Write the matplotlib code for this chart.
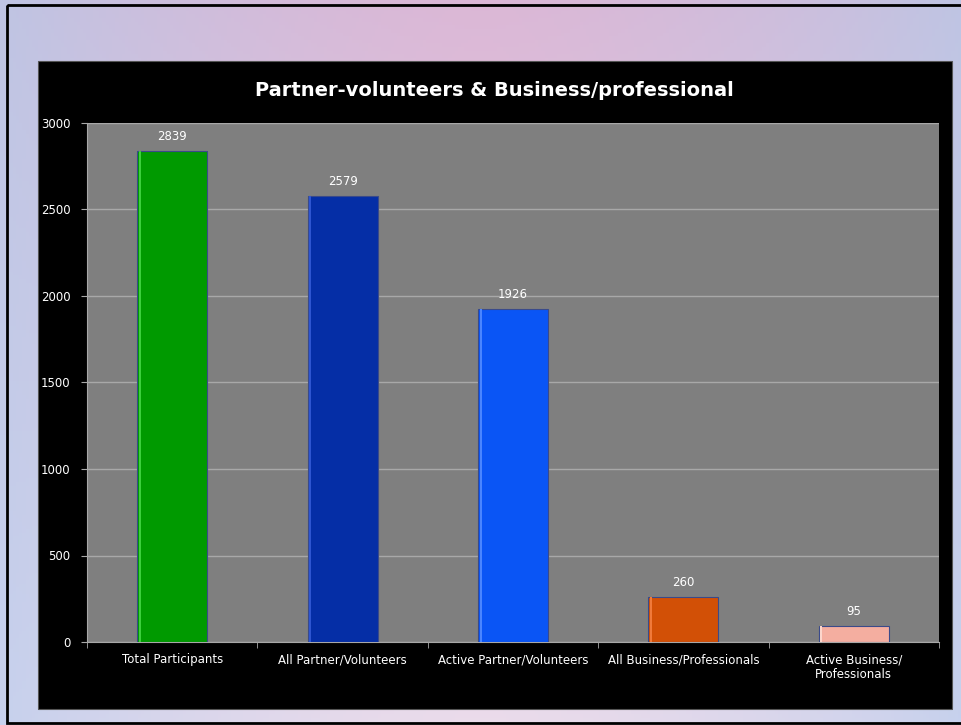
import matplotlib.pyplot as plt
from matplotlib.patches import Rectangle
import numpy as np

categories = ["Total Participants", "All Partner/Volunteers", "Active Partner/Volunteers",
              "All Business/Professionals", "Active Business/\nProfessionals"]
values = [2839, 2579, 1926, 260, 95]
bar_colors = ["#009a00", "#052ea6", "#0a55f5", "#d25006", "#f4aea0"]
highlight_colors = ["#3ccf3c", "#2e55d0", "#4a85ff", "#f07a3a", "#fcd6cc"]
yticks = [0, 500, 1000, 1500, 2000, 2500, 3000]

plt.rcParams['font.family'] = ['DejaVu Sans']

W, H = 961, 725
fig = plt.figure(figsize=(W / 100, H / 100), dpi=100)

# slide background: pastel gradient
bg = fig.add_axes([0, 0, 1, 1])
xx, yy = np.meshgrid(np.linspace(-1, 1, 300), np.linspace(0, 1, 200))
edge = np.array([0.75, 0.77, 0.89])
pink = np.array([0.86, 0.72, 0.84])
light = np.array([0.92, 0.86, 0.92])
t = np.clip(np.abs(xx) ** 1.5, 0, 1)[..., None]
top = pink * (1 - t) + edge * t
bot = light * (1 - t) + np.array([0.78, 0.82, 0.93]) * t
v = yy[..., None]
img = top * (1 - v) + bot * v
bg.imshow(img, extent=[0, W, H, 0], aspect='auto')
bg.set_xlim(0, W)
bg.set_ylim(H, 0)
bg.axis('off')
bg.add_patch(Rectangle((7, 5), W, 718, fill=False, edgecolor='black', linewidth=2))
# black chart panel
bg.add_patch(Rectangle((38, 61), 914, 648, facecolor='black', edgecolor='#555555', linewidth=0.8))

# plot area
x0, x1, y0, y1 = 87, 939, 123, 642
ax = fig.add_axes([x0 / W, 1 - y1 / H, (x1 - x0) / W, (y1 - y0) / H])
ax.set_facecolor('#7f7f7f')
x = np.arange(len(values))
ax.bar(x, values, width=0.41, color=bar_colors, edgecolor='#3a4a8a', linewidth=0.8, zorder=3)
# slight bevel highlight on the left side of each bar
ax.bar(x - 0.19, values, width=0.012, color=highlight_colors, linewidth=0, zorder=4)
for xi, v in zip(x, values):
    ax.text(xi, v + 45, str(v), ha='center', va='bottom', color='white', fontsize=8.5)
ax.set_xlim(-0.5, len(values) - 0.5)
ax.set_ylim(0, 3000)
ax.set_yticks(yticks)
ax.yaxis.grid(True, color='#a8a8a8', linewidth=1)
ax.set_axisbelow(True)
ax.set_xticks(x)
ax.set_xticklabels(categories, color='white', fontsize=8.5, linespacing=1.2)
ax.set_xticks(np.arange(-0.5, len(values)), minor=True)
ax.tick_params(axis='x', which='major', length=0, pad=8)
ax.tick_params(axis='x', which='minor', length=4, color='#a8a8a8')
ax.tick_params(axis='y', colors='white', labelsize=8.5, length=4, pad=8)
ax.tick_params(axis='y', color='#a8a8a8')
for s in ['top', 'right']:
    ax.spines[s].set_visible(False)
ax.spines['left'].set_color('#a8a8a8')
ax.spines['bottom'].set_color('#a8a8a8')

fig.text(494 / W, 1 - 91 / H, "Partner-volunteers & Business/professional", ha='center', va='center',
         color='white', fontsize=14, fontweight='bold')

fig.savefig('out.png', dpi=100)
